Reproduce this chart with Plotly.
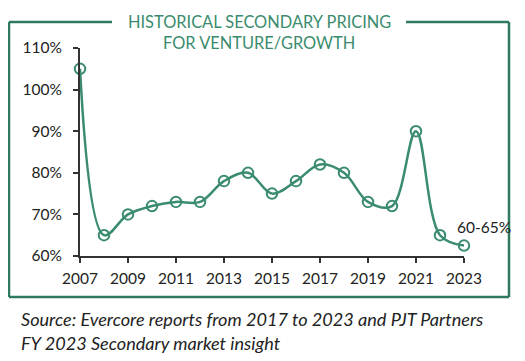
import plotly.graph_objects as go

years = list(range(2007, 2024))
pricing = [105, 65, 70, 72, 73, 73, 78, 80, 75, 78, 82, 80, 73, 72, 90, 65, 62.5]
x_ticks = list(range(2007, 2024, 2))
y_ticks = [60, 70, 80, 90, 100, 110]
title_lines = ["HISTORICAL SECONDARY PRICING", "FOR VENTURE/GROWTH"]
last_label = "60-65%"
source_lines = ["Source: Evercore reports from 2017 to 2023 and PJT Partners",
                "FY 2023 Secondary market insight"]

GREEN = "#3b8c6e"
BORDER = "#2f7a5c"
DARK = "#222222"
FONT = "Lato"

fig = go.Figure()
fig.add_trace(go.Scatter(
    x=years, y=pricing, mode="lines+markers",
    line=dict(color=GREEN, width=2.5, shape="spline", smoothing=1.0),
    marker=dict(symbol="circle-open", size=10.5, color=GREEN, line=dict(width=2, color=GREEN)),
    cliponaxis=False, showlegend=False, hoverinfo="x+y",
))

OFF = 8  # page body margin
W, H = 525, 361
L, T = 80 - OFF, 48 - OFF
pw, ph = 384, 208
R, B = W - L - pw, H - T - ph

def px(x):
    return (x - OFF - L) / pw

def py(y):
    return (T + ph - (y - OFF)) / ph

bx0, bx1, by0, by1 = 9, 509, 22, 297
gap0, gap1 = 112, 406
shapes = []
for (x0, y0, x1, y1) in [
    (bx0, by0, bx0, by1), (bx0, by1, bx1, by1), (bx1, by1, bx1, by0),
    (bx0, by0, gap0, by0), (gap1, by0, bx1, by0)]:
    shapes.append(dict(type="line", xref="paper", yref="paper",
                       x0=px(x0), y0=py(y0), x1=px(x1), y1=py(y1),
                       line=dict(color=BORDER, width=2.5)))

annotations = [
    dict(text=title_lines[0], xref="paper", yref="paper", x=px(259), y=py(21),
         xanchor="center", yanchor="middle", showarrow=False,
         font=dict(family=FONT, size=16.4, color=GREEN)),
    dict(text=title_lines[1], xref="paper", yref="paper", x=px(259), y=py(42),
         xanchor="center", yanchor="middle", showarrow=False,
         font=dict(family=FONT, size=16.4, color=GREEN)),
    dict(text=last_label, xref="paper", yref="paper", x=px(484), y=py(227),
         xanchor="center", yanchor="middle", showarrow=False,
         font=dict(family=FONT, size=15.5, color=DARK)),
    dict(text=source_lines[0], xref="paper", yref="paper", x=px(19), y=py(319),
         xanchor="left", yanchor="middle", showarrow=False,
         font=dict(family=FONT, size=18.1, color=DARK, style="italic")),
    dict(text=source_lines[1], xref="paper", yref="paper", x=px(19), y=py(343),
         xanchor="left", yanchor="middle", showarrow=False,
         font=dict(family=FONT, size=18.1, color=DARK, style="italic")),
]

fig.update_layout(
    width=W, height=H,
    margin=dict(l=L, r=R, t=T, b=B),
    paper_bgcolor="white", plot_bgcolor="white",
    font=dict(family=FONT, color=DARK, size=15),
    shapes=shapes, annotations=annotations,
    xaxis=dict(range=[2007, 2023], tickvals=x_ticks, ticktext=[str(v) for v in x_ticks],
               showgrid=False, zeroline=False, showline=True, linecolor="#333333", linewidth=2,
               ticks="outside", ticklen=5, tickwidth=2, tickcolor="#333333",
               tickfont=dict(family=FONT, size=15.5, color=DARK), ticklabelstandoff=2),
    yaxis=dict(range=[60, 110], tickvals=y_ticks, ticktext=[f"{v}%" for v in y_ticks],
               showgrid=False, zeroline=False, showline=True, linecolor="#333333", linewidth=2,
               ticks="outside", ticklen=5, tickwidth=2, tickcolor="#333333",
               tickfont=dict(family=FONT, size=15.5, color=DARK), ticklabelstandoff=8),
)

fig.write_html("out.html")
